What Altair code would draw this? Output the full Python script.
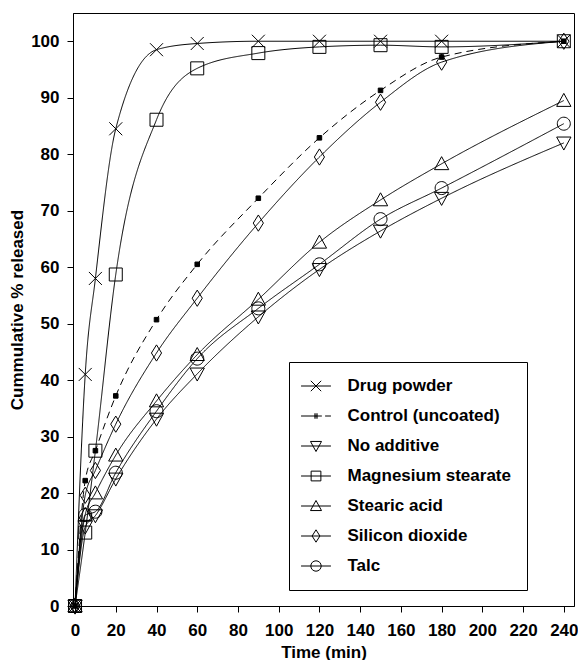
import altair as alt
import pandas as pd

times = [0, 5, 10, 20, 40, 60, 90, 120, 150, 180, 240]

series_names = ["Drug powder", "Control (uncoated)", "No additive",
                "Magnesium stearate", "Stearic acid", "Silicon dioxide", "Talc"]

drug_powder = [0, 41, 58, 84.5, 98.5, 99.6, 100, 100, 100, 100, 100]
control = [0, 22.2, 27.5, 37.2, 50.7, 60.5, 72.2, 82.9, 91.3, 97.2, 100]
no_additive = [0, 14, 16, 22.5, 33.1, 41.1, 51.2, 59.6, 66.4, 72.2, 82]
mg_stearate = [0, 13, 27.5, 58.7, 86.1, 95.2, 97.9, 99.0, 99.3, 99.0, 100]
stearic_acid = [0, 16.2, 20, 26.7, 36.3, 44.5, 54.3, 64.4, 71.9, 78.3, 89.5]
silicon_dioxide = [0, 19.6, 24, 32.2, 44.8, 54.5, 67.8, 79.5, 89.2, 96.3, 100]
talc = [0, 16.1, 16.7, 23.6, 34.5, 43.8, 52.7, 60.5, 68.5, 74.0, 85.4]

values = [drug_powder, control, no_additive, mg_stearate,
          stearic_acid, silicon_dioxide, talc]

rows = []
for name, vals in zip(series_names, values):
    for t, v in zip(times, vals):
        rows.append({"time": t, "pct": v, "series": name,
                     "control": name == "Control (uncoated)"})
df = pd.DataFrame(rows)

# symbol paths (unit coordinates)
plot_shapes = [
    "M-1,-1L1,1M-1,1L1,-1",                       # X
    "M-0.35,-0.35H0.35V0.35H-0.35Z",               # small filled square
    "M-1.1,-0.9H1.1L0,1.1Z",                       # triangle down
    "M-1,-1H1V1H-1Z",                              # square
    "M0,-1.1L1.1,0.9H-1.1Z",                       # triangle up
    "M0,-1.25L0.78,0L0,1.25L-0.78,0Z",             # diamond
    "M1,0A1,1,0,1,1,-1,0A1,1,0,1,1,1,0Z",          # circle
]
line_part = "M-2.3,0H2.3"
legend_shapes = [
    line_part + "M-0.8,-0.8L0.8,0.8M-0.8,0.8L0.8,-0.8",
    "M-2.3,0H-0.3M0.3,0H0.9M1.4,0H2.3"
    "M-0.3,-0.3H0.3M-0.3,-0.1H0.3M-0.3,0.1H0.3M-0.3,0.3H0.3",
    line_part + "M-0.85,-0.7H0.85L0,0.85Z",
    line_part + "M-0.75,-0.75H0.75V0.75H-0.75Z",
    line_part + "M0,-0.85L0.85,0.7H-0.85Z",
    line_part + "M0,-0.95L0.6,0L0,0.95L-0.6,0Z",
    line_part + "M0.8,0A0.8,0.8,0,1,1,-0.8,0A0.8,0.8,0,1,1,0.8,0Z",
]

x_enc = alt.X("time:Q", scale=alt.Scale(domain=[-1, 245], nice=False, zero=False),
              axis=alt.Axis(values=list(range(0, 241, 20)), title="Time (min)",
                            labelPadding=10, titlePadding=6))
y_enc = alt.Y("pct:Q", scale=alt.Scale(domain=[0, 105], nice=False),
              axis=alt.Axis(values=list(range(0, 101, 10)), title="Cummulative % released",
                            labelPadding=8, titlePadding=4))

base = alt.Chart(df)

lines = base.mark_line(interpolate="monotone", color="black", strokeWidth=1).encode(
    x=x_enc, y=y_enc,
    detail="series:N",
    strokeDash=alt.StrokeDash("control:N",
                              scale=alt.Scale(domain=[False, True], range=[[1, 0], [7, 5]]),
                              legend=None),
)

points = base.mark_point(filled=True, color="black", stroke="black", strokeWidth=1,
                         size=169, opacity=1).encode(
    x=x_enc, y=y_enc,
    shape=alt.Shape("series:N", scale=alt.Scale(domain=series_names, range=plot_shapes),
                    legend=None),
    fillOpacity=alt.FillOpacity("control:N",
                                scale=alt.Scale(domain=[False, True], range=[0, 1]),
                                legend=None),
)

legend_layer = base.mark_point(filled=False, color="black", strokeWidth=1, size=169).encode(
    x=x_enc, y=y_enc,
    opacity=alt.value(0),
    shape=alt.Shape("series:N", scale=alt.Scale(domain=series_names, range=legend_shapes),
                    legend=alt.Legend(
                        title=None, orient="none", legendX=216, legendY=349,
                        symbolSize=169, symbolOpacity=1, symbolStrokeColor="black",
                        symbolFillColor="transparent", symbolStrokeWidth=1,
                        symbolOffset=3, labelLimit=400,
                        labelFont="Liberation Sans", labelFontSize=17,
                        labelFontWeight="bold", labelColor="black",
                        labelOffset=23, rowPadding=12,
                        strokeColor="black", fillColor="white",
                        padding=15.5, offset=0,
                    )),
)

chart = alt.layer(lines, points, legend_layer).resolve_scale(
    shape="independent"
).properties(
    width=570, height=652,
    autosize=alt.AutoSizeParams(type="fit", contains="padding"),
    padding={"left": 0, "top": 5, "right": 0, "bottom": 0},
).configure_view(
    stroke="black", strokeWidth=1
).configure_axis(
    grid=False, domainColor="black", tickColor="black", tickSize=6,
    labelFont="Liberation Sans", labelFontSize=17, labelFontWeight="bold",
    labelColor="black", titleFont="Liberation Sans", titleFontSize=17,
    titleFontWeight="bold", titleColor="black",
)

chart.save("out.html", embed_options={"renderer": "svg", "actions": False})
